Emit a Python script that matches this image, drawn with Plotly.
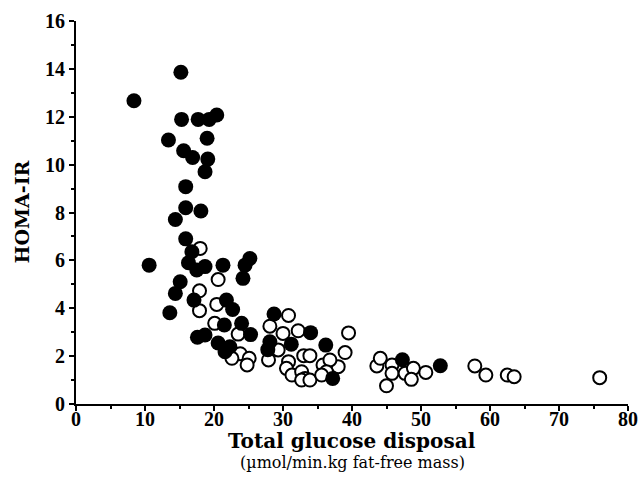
import plotly.graph_objects as go

# Filled circles
filled_x = [8.4, 15.2, 15.3, 17.7, 19.3, 20.4, 13.4, 19.0, 15.6, 16.9, 19.1, 18.7, 15.9, 15.9, 18.1,
            14.4, 15.9, 16.8, 16.3, 10.6, 18.7, 21.3, 25.2, 24.5, 24.2, 17.5, 15.1, 14.4, 17.1, 13.6,
            21.8, 22.7, 21.5, 24.0, 28.7, 17.6, 18.7, 20.6, 25.3, 22.3, 21.6, 27.8, 28.1, 31.2, 34.0,
            36.2, 37.2, 47.3, 52.8]
filled_y = [12.67, 13.86, 11.89, 11.89, 11.89, 12.07, 11.03, 11.1, 10.58, 10.3, 10.23, 9.7, 9.08, 8.2, 8.06,
            7.71, 6.9, 6.36, 5.9, 5.8, 5.74, 5.8, 6.08, 5.8, 5.25, 5.6, 5.11, 4.62, 4.34, 3.81,
            4.34, 3.95, 3.3, 3.37, 3.76, 2.79, 2.88, 2.55, 2.9, 2.39, 2.18, 2.27, 2.6, 2.5, 2.98,
            2.46, 1.07, 1.85, 1.6]

# Open circles
open_x = [18.0, 20.6, 17.9, 17.9, 20.4, 20.1, 23.5, 23.8, 22.6, 25.1, 24.8, 27.9, 28.1, 30.8, 30.0,
          32.2, 39.5, 29.3, 30.8, 33.0, 33.9, 30.5, 31.3, 35.8, 38.0, 39.0, 36.8, 32.7, 33.2, 32.7,
          33.9, 36.3, 35.6, 43.6, 44.1, 45.8, 45.8, 45.0, 47.7, 48.9, 48.6, 50.7, 57.8, 59.4, 62.5,
          63.5, 75.9]
open_y = [6.5, 5.2, 4.73, 3.9, 4.16, 3.37, 2.92, 2.1, 1.91, 1.91, 1.63, 1.84, 3.25, 3.7, 2.95,
          3.06, 2.97, 2.26, 1.77, 2.02, 2.02, 1.49, 1.21, 1.63, 1.56, 2.15, 1.84, 1.35, 1.07, 1.0,
          1.0, 1.35, 1.21, 1.59, 1.91, 1.63, 1.28, 0.76, 1.28, 1.49, 1.03, 1.32, 1.59, 1.21, 1.21,
          1.14, 1.1]

x_ticks = [0, 10, 20, 30, 40, 50, 60, 70, 80]
y_ticks = [0, 2, 4, 6, 8, 10, 12, 14, 16]

TICKFONT = "Liberation Serif"
TITLEFONT = "DejaVu Serif"

fig = go.Figure()
fig.add_trace(go.Scatter(
    x=open_x, y=open_y, mode="markers", name="open",
    marker=dict(symbol="circle", size=13, color="white", line=dict(color="black", width=2)),
    cliponaxis=False, showlegend=False))
fig.add_trace(go.Scatter(
    x=filled_x, y=filled_y, mode="markers", name="filled",
    marker=dict(symbol="circle", size=15, color="black", line=dict(color="black", width=0)),
    cliponaxis=False, showlegend=False))

fig.update_layout(
    width=640, height=499,
    margin=dict(l=76, r=12, t=21, b=95),
    plot_bgcolor="white", paper_bgcolor="white",
    font=dict(family=TICKFONT, color="black"),
)
fig.update_xaxes(
    range=[0, 80], tickvals=x_ticks, ticktext=[str(v) for v in x_ticks],
    showgrid=False, zeroline=False, showline=True, linecolor="black", linewidth=2,
    ticks="outside", ticklen=5, tickwidth=2, tickcolor="black",
    minor=dict(dtick=5, ticks="outside", ticklen=3, tickwidth=1.5, tickcolor="black"),
    tickfont=dict(family=TICKFONT, size=20, weight="bold"),
    ticklabelstandoff=-9,
    automargin=False,
)
fig.update_yaxes(
    range=[0, 16], tickvals=y_ticks, ticktext=[str(v) for v in y_ticks],
    showgrid=False, zeroline=False, showline=True, linecolor="black", linewidth=2,
    ticks="outside", ticklen=5, tickwidth=2, tickcolor="black",
    minor=dict(dtick=1, ticks="outside", ticklen=3, tickwidth=1.5, tickcolor="black"),
    tickfont=dict(family=TICKFONT, size=20, weight="bold"),
    automargin=False,
)

fig.add_annotation(text="Total glucose disposal", xref="paper", yref="paper",
                   x=0.5, y=0, yshift=-37, xanchor="center", yanchor="middle", showarrow=False,
                   font=dict(family=TITLEFONT, size=20, weight="bold"))
fig.add_annotation(text="(µmol/min.kg fat-free mass)", xref="paper", yref="paper",
                   x=0.5, y=0, yshift=-58, xanchor="center", yanchor="middle", showarrow=False,
                   font=dict(family=TITLEFONT, size=16))
fig.add_annotation(text="HOMA-IR", xref="paper", yref="paper",
                   x=0, y=0.5, xshift=-55, xanchor="center", yanchor="middle", showarrow=False,
                   textangle=-90, font=dict(family=TITLEFONT, size=19, weight="bold"))

fig.write_html("out.html",
               config={"displayModeBar": False},
               post_script="document.body.style.margin='0';document.body.style.overflow='hidden';")
